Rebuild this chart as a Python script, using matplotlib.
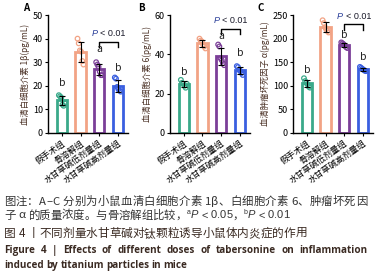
import numpy as np
import matplotlib
matplotlib.use('Agg')
import matplotlib.pyplot as plt
from matplotlib import font_manager

plt.rcParams['font.family'] = ['Noto Sans CJK SC', 'DejaVu Sans']

try:
    from matplotlib.ft2font import LoadFlags
    NO_HINT = LoadFlags.NO_HINTING
except ImportError:
    NO_HINT = 2

# groups on the x axis
groups = ['假手术组', '骨溶解组', '水甘草碱低剂量组', '水甘草碱高剂量组']
colors = ['#3aa98a', '#f2a385', '#7b3f98', '#3a5fe0']

# individual points (pg/mL)
il1b = [[16, 15.5, 15, 12, 11.5, 12.5],
        [40, 38, 35, 34.5, 30.5, 29],
        [30, 29, 28, 26, 24.5, 24.5],
        [23.5, 23, 19.5, 18.5, 18, 17.5]]
il6 = [[27, 25.5, 25, 24, 23, 25],
       [48, 47, 46.5, 45, 44, 43],
       [45, 44, 38, 37, 35.5, 34.5],
       [34, 33.5, 32, 31.5, 30.5, 29.5]]
tnfa = [[116, 110, 106, 103, 98, 96],
        [239, 233, 224, 220, 216, 213],
        [192, 190, 188, 185, 182, 180],
        [140, 138, 136, 134, 132, 131]]

panels = ['A', 'B', 'C']
ylabels = ['血清白细胞介素 1β(pg/mL)', '血清白细胞介素 6(pg/mL)', '血清肿瘤坏死因子 α(pg/mL)']
ymaxs = [50, 60, 250]
ysteps = [10, 20, 50]
datasets = [il1b, il6, tnfa]
sig_letters = [['b', '', 'a', 'b'], ['b', '', 'a', 'b'], ['b', '', 'b', 'b']]
letter_y = [[19, 0, 33.5, 25.5], [28.5, 0, 47, 38], [122, 0, 198, 150]]
bracket_y = [38.7, 53, 230]

W, H, DPI = 380, 274, 100
fig = plt.figure(figsize=(W / DPI, H / DPI), dpi=DPI)
lefts = [0.126, 0.447, 0.771]
letter_x = [23, 138, 257]

for k in range(3):
    ax = fig.add_axes([lefts[k], 0.515, 0.211, 0.43])
    data = datasets[k]
    x = np.arange(4)
    means = [np.mean(d) for d in data]
    sds = [np.std(d, ddof=1) for d in data]
    for i in range(4):
        ax.bar(x[i], means[i], width=0.55, facecolor='white', edgecolor=colors[i], linewidth=2.0, zorder=2)
        jit = np.linspace(-0.16, 0.16, len(data[i]))
        ax.scatter(x[i] + jit, data[i], s=11, facecolors='none', edgecolors=colors[i], linewidths=0.9, zorder=3)
        ax.errorbar(x[i], means[i], yerr=sds[i], color='black', capsize=2.2, elinewidth=0.8, capthick=0.8, zorder=4)
        if sig_letters[k][i]:
            ax.text(x[i], letter_y[k][i], sig_letters[k][i], ha='center', va='bottom', fontsize=7.5, color='#222222')
    by = bracket_y[k]
    h = ymaxs[k] * 0.045
    ax.plot([2, 2, 3, 3], [by - h, by, by, by - h], color='black', lw=1.0, clip_on=False)
    ty = by + ymaxs[k] * 0.03
    ax.annotate('P', (2.5, ty), xytext=(-17, 0), textcoords='offset pixels', ha='left', va='bottom',
                fontsize=6.5, color='#2a3f9a', style='italic', family='Liberation Sans', annotation_clip=False)
    ax.annotate('< 0.01', (2.5, ty), xytext=(-8, 0), textcoords='offset pixels', ha='left', va='bottom',
                fontsize=6.5, color='#1a1a2a', family='Liberation Sans', annotation_clip=False)

    ax.set_xlim(-0.75, 3.55)
    ax.set_ylim(0, ymaxs[k])
    ax.set_yticks(np.arange(0, ymaxs[k] + 1, ysteps[k]))
    ax.set_xticks(x)
    ax.set_xticklabels(groups, rotation=35, ha='right', rotation_mode='anchor', fontsize=6.1)
    ax.tick_params(axis='y', labelsize=6.5, length=2.5, width=0.8, pad=1)
    ax.tick_params(axis='x', length=2.5, width=0.8, pad=1.5)
    for s in ['top', 'right']:
        ax.spines[s].set_visible(False)
    for s in ['left', 'bottom']:
        ax.spines[s].set_linewidth(1.0)
    ax.set_ylabel(ylabels[k], fontsize=6, color='#4a3024', labelpad=2)
    fig.text(letter_x[k] / W, 1 - 8 / H, panels[k], fontsize=7, fontweight='bold', va='center')


def advances(text, family, size, weight='normal', style='normal'):
    path = font_manager.findfont(font_manager.FontProperties(family=family, weight=weight, style=style))
    font = font_manager.get_font(path)
    font.set_size(size, DPI)
    return [font.load_char(ord(c), flags=NO_HINT).linearHoriAdvance / 65536 for c in text]


def put_chars(y_base, runs, x0=4, right=None, color='#333333'):
    # runs: (text, size, family, weight, style, raise_px)
    items = []
    for text, size, fam, weight, style, dy in runs:
        for c, w in zip(text, advances(text, fam, size, weight, style)):
            items.append((c, w, size, fam, weight, style, dy))
    total = sum(it[1] for it in items)
    gap = 0 if right is None else (right - x0 - total) / (len(items) - 1)
    xp = x0
    for c, w, size, fam, weight, style, dy in items:
        if c != ' ':
            fig.text(xp / W, 1 - (y_base - dy) / H, c, fontsize=size, family=[fam, 'DejaVu Sans'],
                     fontweight=weight, style=style, color=color, ha='left', va='baseline')
        xp += w + gap


def put_words(y_base, text, size, family, x0=4, right=None, color='#3a2a22'):
    words = text.split(' ')
    widths = [sum(advances(wd, family, size, 'bold')) for wd in words]
    space = advances(' ', family, size, 'bold')[0]
    if right is not None:
        space = (right - x0 - sum(widths)) / (len(words) - 1)
    xp = x0
    for wd, w in zip(words, widths):
        fig.text(xp / W, 1 - y_base / H, wd, fontsize=size, family=family, fontweight='bold',
                 color=color, ha='left', va='baseline')
        xp += w + space


cjk = 'Noto Sans CJK SC'
lat = 'Liberation Sans'
put_chars(205, [('图注：A–C 分别为小鼠血清白细胞介素 1β、白细胞介素 6、肿瘤坏死因', 8.2, cjk, 'normal', 'normal', 0)], right=367)
put_chars(218.5, [('子 α 的质量浓度。与骨溶解组比较，', 8.2, cjk, 'normal', 'normal', 0),
                  ('a', 5.0, lat, 'normal', 'normal', 4),
                  ('P', 8.0, lat, 'normal', 'italic', 0),
                  (' < 0.05', 8.0, lat, 'normal', 'normal', 0),
                  ('，', 8.2, cjk, 'normal', 'normal', 0),
                  ('b', 5.0, lat, 'normal', 'normal', 4),
                  ('P', 8.0, lat, 'normal', 'italic', 0),
                  (' < 0.01', 8.0, lat, 'normal', 'normal', 0)])
put_chars(237, [('图 4 丨不同剂量水甘草碱对钛颗粒诱导小鼠体内炎症的作用', 8.4, cjk, 'normal', 'normal', 0)],
          color='#3a2a22')
put_words(253, 'Figure 4 | Effects of different doses of tabersonine on inflammation', 7.1, 'Open Sans', right=367)
put_words(268, 'induced by titanium particles in mice', 7.1, 'Open Sans')

fig.savefig('out.png', dpi=DPI)
